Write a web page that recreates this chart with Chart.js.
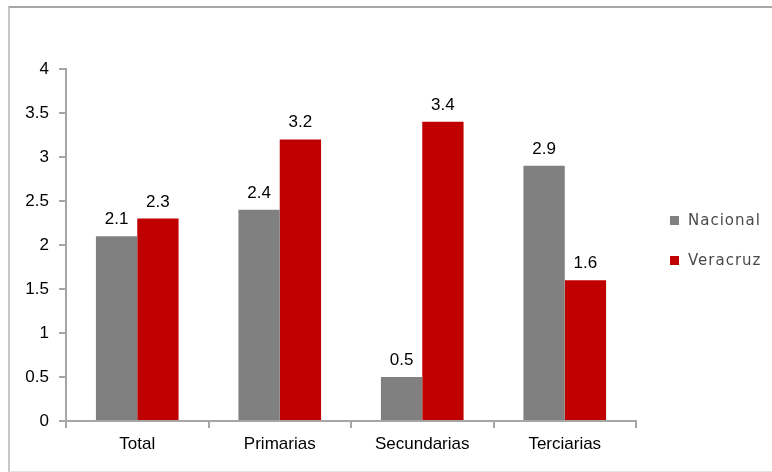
<!DOCTYPE html>
<html>
<head>
<meta charset="utf-8">
<script src="https://cdn.jsdelivr.net/npm/chart.js@4/dist/chart.umd.min.js"></script>
<style>
  html, body { margin: 0; padding: 0; background: #fff; }
  #frame {
    position: absolute; left: 8px; top: 6px; width: 780px; height: 463px;
    border-top: 2px solid #a6a6a6; border-left: 2px solid #c8c8c8;
    border-bottom: 1px solid #e4e4e4;
  }
  #wrap { position: absolute; left: 0; top: 0; width: 772px; height: 472px; }
</style>
</head>
<body>
<div id="frame"></div>
<div id="wrap"><canvas id="chart" width="772" height="472"></canvas></div>
<script>
  var categories = ["Total", "Primarias", "Secundarias", "Terciarias"];
  var nacional = [2.1, 2.4, 0.5, 2.9];
  var veracruz = [2.3, 3.2, 3.4, 1.6];
  var yTicks = [0, 0.5, 1, 1.5, 2, 2.5, 3, 3.5, 4];

  var axisColor = "#a6a6a6";
  var labelFont = "'Liberation Sans', Arial, sans-serif";

  // value labels above each bar
  var valueLabels = {
    id: "valueLabels",
    afterDatasetsDraw: function (chart) {
      var ctx = chart.ctx;
      ctx.save();
      ctx.font = "17px " + labelFont;
      ctx.fillStyle = "#000";
      ctx.textAlign = "center";
      ctx.textBaseline = "alphabetic";
      chart.data.datasets.forEach(function (ds, i) {
        chart.getDatasetMeta(i).data.forEach(function (bar, j) {
          ctx.fillText(String(ds.data[j]), bar.x, bar.y - 12);
        });
      });
      ctx.restore();
    }
  };

  // legend at the right, drawn from the datasets
  var sideLegend = {
    id: "sideLegend",
    afterDraw: function (chart) {
      var ctx = chart.ctx;
      ctx.save();
      ctx.font = "15px 'DejaVu Sans', Verdana, sans-serif";
      ctx.letterSpacing = "1px";
      ctx.textBaseline = "middle";
      chart.data.datasets.forEach(function (ds, i) {
        var y = 220 + i * 40;
        ctx.fillStyle = ds.backgroundColor;
        ctx.fillRect(670, y - 4, 9, 9);
        ctx.fillStyle = "#4a4a4a";
        ctx.fillText(ds.label, 688, y + 1);
      });
      ctx.restore();
    }
  };

  var ctx = document.getElementById("chart").getContext("2d");
  new Chart(ctx, {
    type: "bar",
    data: {
      labels: categories,
      datasets: [
        { label: "Nacional", data: nacional, backgroundColor: "#808080" },
        { label: "Veracruz", data: veracruz, backgroundColor: "#c00000" }
      ]
    },
    options: {
      responsive: false,
      animation: false,
      layout: { padding: { top: 69, right: 136, bottom: 0, left: 0 } },
      datasets: { bar: { categoryPercentage: 0.58, barPercentage: 1 } },
      plugins: { legend: { display: false }, tooltip: { enabled: false } },
      scales: {
        x: {
          grid: { drawOnChartArea: false, color: axisColor, tickLength: 7, lineWidth: 2 },
          border: { color: axisColor, width: 2 },
          ticks: {
            color: "#000",
            padding: 6,
            font: { family: labelFont, size: 17 }
          },
          afterFit: function (scale) { scale.height = 51; }
        },
        y: {
          min: 0,
          max: 4,
          afterBuildTicks: function (scale) {
            scale.ticks = yTicks.map(function (v) { return { value: v }; });
          },
          grid: { drawOnChartArea: false, color: axisColor, tickLength: 7, lineWidth: 2 },
          border: { color: axisColor, width: 2 },
          ticks: {
            color: "#000",
            padding: 10,
            font: { family: labelFont, size: 17 },
            callback: function (v) { return String(v); }
          },
          afterFit: function (scale) { scale.width = 66; }
        }
      }
    },
    plugins: [valueLabels, sideLegend]
  });
</script>
</body>
</html>
